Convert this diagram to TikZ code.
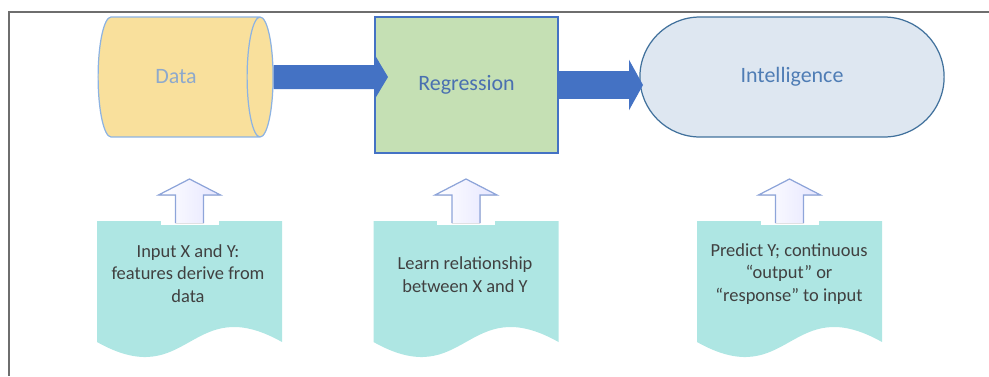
\documentclass[tikz,border=0pt]{standalone}
\usepackage{fontspec}
\setmainfont{Carlito}
\usetikzlibrary{shapes.geometric,shapes.misc,arrows.meta}

\definecolor{frameGray}{HTML}{6E6E6E}
\definecolor{dataFill}{HTML}{F9E09C}
\definecolor{dataLine}{HTML}{8DB3E2}
\definecolor{dataText}{HTML}{8EA9CC}
\definecolor{regFill}{HTML}{C5E0B4}
\definecolor{regLine}{HTML}{4472C4}
\definecolor{regText}{HTML}{4A70B0}
\definecolor{intFill}{HTML}{DEE7F1}
\definecolor{intLine}{HTML}{41719C}
\definecolor{intText}{HTML}{4F7DB5}
\definecolor{arrowBlue}{HTML}{4472C4}
\definecolor{docFill}{HTML}{AEE6E3}
\definecolor{hollowLine}{HTML}{8EA5DA}
\definecolor{docText}{HTML}{404040}

\tikzset{
  frame/.style={draw=frameGray,line width=1.1pt},
  bigtext/.style={font=\fontsize{12.5}{15}\selectfont},
  smalltext/.style={font=\fontsize{10.5}{13}\selectfont,text=docText,align=center},
}

\begin{document}
\begin{tikzpicture}[x=0.02cm,y=-0.02cm]
  \useasboundingbox (0,0) rectangle (989,376);
  \draw[frame] (989,12) -- (9,12) -- (9,376);

  % top row
  \node[cylinder,shape aspect=1,cylinder uses custom fill,
    cylinder body fill=dataFill,cylinder end fill=dataFill,
    draw=dataLine,line width=0.7pt,minimum width=2.4cm,minimum height=3.5cm,
    text=dataText,bigtext] (data) at (176,77) {Data};
  \node[rectangle,fill=regFill,draw=regLine,line width=0.7pt,
    minimum width=3.66cm,minimum height=2.72cm,text=regText,bigtext]
    (regr) at (466.5,85) {Regression};
  \node[rounded rectangle,fill=intFill,draw=intLine,line width=0.7pt,
    minimum width=6.32cm,minimum height=2.4cm,text=intText,bigtext]
    (intel) at (792,77) {Intelligence};

  \coordinate (a1) at (388,77);
  \coordinate (a2) at (643,85);
  \draw[arrowBlue,line width=0.48cm,-{Triangle[width=0.86cm,length=0.26cm]}]
    (data.east) -- (a1);
  \draw[arrowBlue,line width=0.56cm,-{Triangle[width=1cm,length=0.28cm]}]
    (regr.east) -- (a2);

  % notes with wavy bottoms
  \foreach \cx in {189.5,466,789.5} {
      \pgfmathsetmacro\xa{\cx-92.5}
      \pgfmathsetmacro\xb{\cx+92.5}
      \fill[docFill] (\xa,221) -- (\xb,221) -- (\xb,342)
        .. controls (\cx,290) and (\cx,394) .. (\xa,342) -- cycle;
      \fill[white] (\cx-29,220) rectangle (\cx+29,225);
      \fill[left color=white,right color=blue!10]
        (\cx,179) -- (\cx+31,195) -- (\cx+14,195) -- (\cx+14,223)
        -- (\cx-14,223) -- (\cx-14,195) -- (\cx-31,195) -- cycle;
      \draw[hollowLine,line width=0.7pt]
        (\cx-14,223) -- (\cx-14,195) -- (\cx-31,195) -- (\cx,179)
        -- (\cx+31,195) -- (\cx+14,195) -- (\cx+14,223);
    }
  \node[smalltext] (note1) at (188,273.5)
    {Input X and Y:\\features derive from\\data};
  \node[smalltext] (note2) at (465,275)
    {Learn relationship\\between X and Y};
  \node[smalltext] (note3) at (789,274)
    {Predict Y; continuous\\“output” or\\“response” to input};
\end{tikzpicture}
\end{document}
